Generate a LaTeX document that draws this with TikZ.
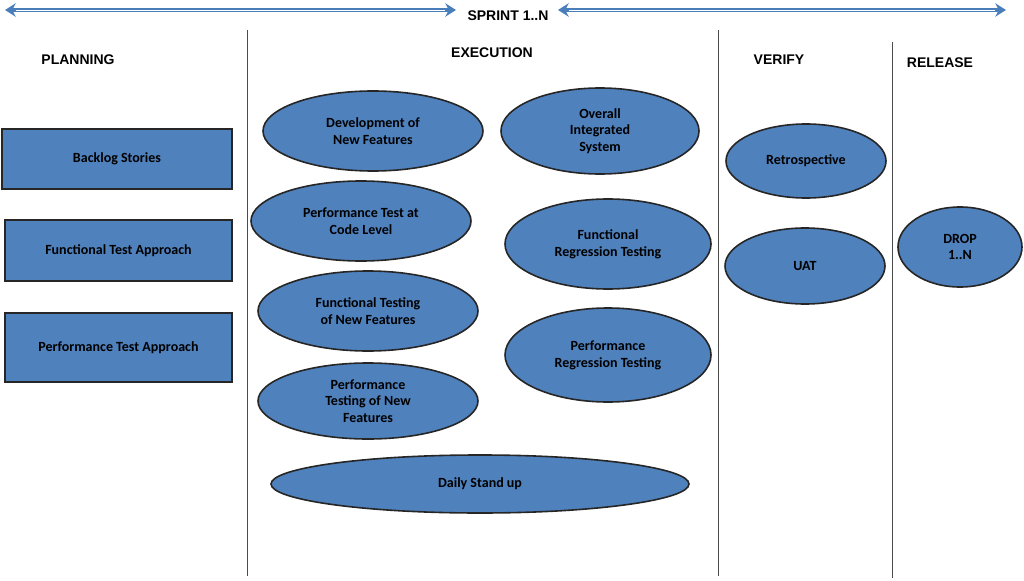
\documentclass[tikz,border=0pt]{standalone}
\usepackage{fontspec}
\setmainfont{Carlito}
\newfontfamily\hdr{Liberation Sans}
\usetikzlibrary{shapes.geometric,arrows.meta}
\definecolor{fillb}{HTML}{4F81BD}
\definecolor{arrb}{HTML}{4A7EBB}
\begin{document}
\begin{tikzpicture}[x=0.75pt,y=-0.75pt,
  box/.style={draw=black!85,line width=1.2pt,fill=fillb,font=\bfseries\fontsize{10.5}{12}\selectfont,align=center,inner sep=0},
  ell/.style={ellipse,draw=black!85,line width=1.2pt,fill=fillb,font=\bfseries\fontsize{10.5}{12.5}\selectfont,align=center,inner sep=0},
  hd/.style={font=\hdr\bfseries\fontsize{10.5}{12}\selectfont},
  sep/.style={draw=black!70,line width=0.6pt},
  sprint/.style={draw=arrb,line width=3pt,{Stealth[length=8pt,width=10pt]}-{Stealth[length=8pt,width=10pt]}}]
\useasboundingbox (0,0) rectangle (1024,581);
% sprint arrows
\coordinate (a1) at (5,10); \coordinate (a2) at (456,10);
\coordinate (a3) at (558,10); \coordinate (a4) at (1006,10);
\draw[sprint] (a1) -- (a2);
\draw[sprint] (a3) -- (a4);
\draw[white,line width=0.6pt,shorten <=8pt,shorten >=8pt] (a1) -- (a2);
\draw[white,line width=0.6pt,shorten <=8pt,shorten >=8pt] (a3) -- (a4);
\node[hd] (sp) at (508,16) {SPRINT 1..N};
% separators
\coordinate (v1a) at (247,30); \coordinate (v1b) at (247,576);
\coordinate (v2a) at (718,30); \coordinate (v2b) at (718,576);
\coordinate (v3a) at (892,42); \coordinate (v3b) at (892,578);
\draw[sep] (v1a) -- (v1b); \draw[sep] (v2a) -- (v2b); \draw[sep] (v3a) -- (v3b);
% headers
\node[hd] (h1) at (78,60) {PLANNING};
\node[hd] (h2) at (492,53) {EXECUTION};
\node[hd] (h3) at (779,60) {VERIFY};
\node[hd] (h4) at (940,63) {RELEASE};
% planning boxes
\node[box,minimum width=230*0.75pt,minimum height=60*0.75pt] (b1) at (117,159) {Backlog Stories};
\node[box,minimum width=227*0.75pt,minimum height=61*0.75pt] (b2) at (118.5,250.5) {Functional Test Approach};
\node[box,minimum width=227*0.75pt,minimum height=69*0.75pt] (b3) at (118.5,347.5) {Performance Test Approach};
% execution
\node[ell,minimum width=220*0.75pt,minimum height=80*0.75pt] (e1) at (373,131) {Development of\\New Features};
\node[ell,minimum width=198*0.75pt,minimum height=86*0.75pt] (e2) at (600,131) {Overall\\Integrated\\System};
\node[ell,minimum width=220*0.75pt,minimum height=80*0.75pt] (e3) at (361,221) {Performance Test at\\Code Level};
\node[ell,minimum width=206*0.75pt,minimum height=90*0.75pt] (e4) at (608,244) {Functional\\Regression Testing};
\node[ell,minimum width=220*0.75pt,minimum height=80*0.75pt] (e5) at (368,311) {Functional Testing\\of New Features};
\node[ell,minimum width=206*0.75pt,minimum height=94*0.75pt] (e6) at (608,355) {Performance\\Regression Testing};
\node[ell,minimum width=220*0.75pt,minimum height=76*0.75pt] (e7) at (368,401) {Performance\\Testing of New\\Features};
\node[ell,minimum width=418*0.75pt,minimum height=58*0.75pt] (e8) at (480,484) {Daily Stand up};
% verify
\node[ell,minimum width=160*0.75pt,minimum height=74*0.75pt] (r1) at (806,161) {Retrospective};
\node[ell,minimum width=160*0.75pt,minimum height=76*0.75pt] (r2) at (805,266) {UAT};
% release
\node[ell,minimum width=124*0.75pt,minimum height=80*0.75pt] (d1) at (960,247) {DROP\\1..N};
\end{tikzpicture}
\end{document}
